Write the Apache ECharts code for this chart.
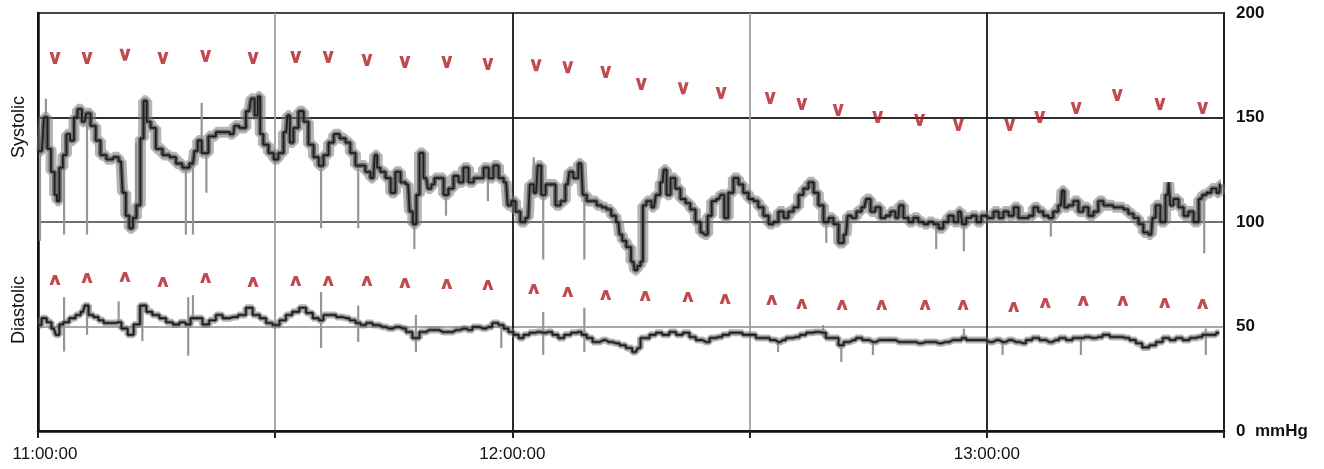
<!DOCTYPE html>
<html>
<head>
<meta charset="utf-8">
<script src="https://cdn.jsdelivr.net/npm/echarts@6/dist/echarts.min.js"></script>
<style>html,body{margin:0;padding:0;background:#fff;}#c{width:1324px;height:469px;}</style>
</head>
<body>
<div id="c"></div>
<script>
// minutes after 11:00:00, pressure in mmHg
var sysTrace = [[0.1,134],[0.5,134],[1.0,150],[1.4,135],[1.9,124],[2.3,113],[2.5,110],[2.9,126],[3.4,132],[3.8,142],[4.3,139],[4.8,150],[5.2,154],[5.9,148],[6.3,152],[7.0,146],[7.6,139],[8.2,132],[9.1,130],[9.9,131],[10.5,129],[10.9,114],[11.3,103],[11.8,97],[12.2,102],[12.7,108],[13.2,140],[13.5,158],[14.0,148],[14.5,145],[15.3,135],[16.2,132],[17.1,131],[17.8,128],[18.7,126],[19.6,128],[20.0,134],[20.4,139],[21.0,133],[22.1,141],[22.9,143],[23.8,143],[24.7,142],
[25.0,146],[25.9,145],[26.7,153],[27.2,159],[27.6,151],[28.0,160],[28.2,142],[28.8,137],[29.5,133],[30.1,130],[30.7,133],[31.4,143],[31.7,151],[32.0,138],[32.6,145],[33.3,153],[33.9,148],[34.5,137],[35.2,131],[35.8,127],[36.4,132],[37.1,138],[37.7,142],[38.6,140],[39.2,138],[39.8,133],[40.5,127],[41.1,127],[41.7,124],[42.4,121],[42.8,132],[43.0,126],[43.6,124],[44.3,121],[44.9,114],[45.5,124],[46.2,119],[46.8,118],[47.2,105],[47.6,99],[48.1,113],[48.4,133],[49.1,121],[49.5,116],[50.0,118],[50.3,121],
[51.0,121],[51.6,113],[52.2,116],[52.9,122],[53.5,119],[54.1,126],[54.8,119],[55.4,121],[56.0,121],[56.7,126],[57.3,121],[57.9,127],[58.6,121],[59.2,119],[59.6,108],[60.1,110],[60.7,105],[61.3,100],[62.0,102],[62.4,118],[63.0,114],[63.4,127],[63.9,113],[64.5,118],[65.1,118],[65.8,108],[66.4,110],[67.0,118],[67.4,124],[68.0,121],[68.7,128],[69.1,113],[69.7,110],[70.3,110],[71.0,108],[71.6,107],[72.2,106],[72.8,103],[73.4,100],[73.7,94],[74.1,91],[74.7,88],[75.3,81],[75.6,77],
[76.0,79],[76.4,81],[76.6,108],[77.3,110],[77.9,107],[78.4,113],[79.0,119],[79.3,125],[79.7,113],[80.3,121],[80.9,116],[81.6,111],[82.2,109],[82.8,106],[83.5,100],[84.1,95],[84.5,94],[84.9,103],[85.5,110],[86.1,111],[86.6,113],[87.0,102],[87.6,114],[88.3,121],[88.9,118],[89.5,114],[90.2,111],[90.8,110],[91.4,107],[92.1,103],[92.7,99],[93.3,100],[94.0,105],[94.6,102],[95.2,105],[95.9,107],[96.5,113],[97.1,116],[97.8,119],[98.4,114],[99.0,108],[99.7,100],[100.3,102],[100.9,99],
[101.6,90],[102.2,94],[102.6,103],[103.2,102],[103.8,105],[104.5,107],[105.0,111],[105.6,105],[106.2,107],[106.9,102],[107.5,103],[108.1,105],[108.8,102],[109.1,108],[109.8,102],[110.4,100],[111.0,102],[111.7,100],[112.3,99],[112.9,100],[113.6,99],[114.2,97],[114.8,100],[115.5,103],[116.1,100],[116.7,105],[117.1,99],[117.7,102],[118.4,103],[119.0,100],[119.6,103],[120.5,102],[121.2,105],[121.8,102],[122.4,105],[123.1,103],[123.7,107],[124.3,102],[125.0,102],[125.6,103],[126.2,107],
[126.8,105],[127.5,103],[128.1,102],[128.7,105],[129.4,108],[129.6,115],[130.0,107],[130.6,108],[131.3,110],[131.9,105],[132.5,107],[133.2,103],[133.8,105],[134.4,110],[135.1,108],[135.7,108],[136.3,107],[137.0,107],[137.6,106],[138.2,104],[138.9,102],[139.5,99],[140.1,95],[140.8,94],[141.1,102],[141.6,108],[142.3,100],[142.9,113],[143.1,119],[143.3,108],[143.9,111],[144.6,107],[145.2,103],[145.8,105],[146.5,100],[147.1,111],[147.5,113],[148.1,114],[148.7,116],[149.4,114],[149.6,118]];

var diaTrace = [[0.1,50.7],[0.8,54],[1.4,52],[2.0,49],[2.5,46],[2.9,51],[3.5,52],[4.4,54],[5.1,55.5],[5.7,57],[6.1,60],[6.7,55.5],[7.3,54.5],[8.0,53],[8.6,51.7],[9.5,51.7],[10.2,52],[10.9,49],[11.8,46],[12.4,51],[13.4,60],[14.0,57],[14.9,55.5],[15.8,54],[16.6,52],[17.5,51],[18.3,52],[19.0,51],[19.6,54],[20.4,54],[21.2,51],[22.1,53],[22.9,55.5],[23.8,54],[24.7,54.5],
[25.9,55.5],[26.7,59],[27.6,55.5],[28.5,54],[29.2,51.7],[30.1,50.7],[31.0,53],[31.7,55.5],[32.6,57],[33.5,59],[34.3,56.5],[35.2,54],[35.8,53],[36.4,55.5],[37.3,55.5],[38.1,54.5],[39.0,54],[39.8,53],[40.5,51.7],[41.1,50.7],[41.9,51.7],[42.7,50.7],[43.6,49.8],[44.4,49],[45.3,49.8],[46.2,49],[46.9,47.4],[47.8,44.5],[48.7,47.4],[49.5,48.3],[50.3,48.3],
[51.2,47.4],[52.0,47.4],[52.9,48.3],[53.8,49],[54.5,48.3],[55.4,49.8],[56.3,49],[57.0,49.8],[57.9,51.7],[58.6,50.7],[59.2,49],[59.8,47.4],[60.5,46],[61.1,44.5],[61.7,46],[62.6,47],[63.2,47.4],[63.9,47],[64.6,47.4],[65.5,46],[66.1,44.5],[67.0,46],[67.8,47],[68.4,47.4],[69.1,46],[69.7,44.5],[70.6,42.6],[71.5,43.5],[72.2,42.6],[73.1,42],[74.0,41],[74.7,39.7],[75.6,37.8],
[76.1,39.7],[76.3,44.5],[76.9,44.5],[77.8,46],[78.5,47],[79.4,46],[80.3,47.4],[81.1,46],[82.0,47],[82.8,45],[83.6,43.5],[84.5,42.6],[85.4,44.5],[86.1,45],[87.0,46],[87.9,47],[88.7,47],[89.5,46],[90.4,46],[91.2,44.5],[92.1,44.5],[93.0,43.5],[93.6,42.6],[94.2,43.5],[95.0,44.5],[95.9,45],[96.8,46],[97.5,47],[98.4,47.4],[99.3,47],[100.0,44.5],[100.9,44.5],
[101.6,41],[102.2,42.6],[103.1,43.5],[103.8,44.5],[104.7,43.5],[105.6,42.6],[106.4,43.5],[107.2,43.5],[108.1,43.5],[108.9,42.6],[109.8,42.6],[110.7,42.6],[111.4,42],[112.3,42.6],[113.2,42.6],[113.9,42],[114.8,42.6],[115.7,43.5],[116.5,43.5],[117.1,44.5],[117.7,43.5],[118.6,43.5],[119.5,43.5],[120.3,42.6],[121.2,43.5],[122.0,42.6],[122.8,43.5],[123.7,42.6],[124.6,42],[125.3,43.5],[126.2,44.5],
[127.1,43.5],[127.9,42.6],[128.7,43.5],[129.6,44.5],[130.4,43.5],[131.3,44.5],[131.9,44.5],[132.5,45],[133.4,44.5],[134.2,45],[135.1,46],[136.0,45],[136.7,45],[137.6,44.5],[138.5,43.5],[139.2,42],[140.1,40],[141.0,41],[141.8,42.6],[142.7,44.5],[143.5,43.5],[144.3,44.5],[145.2,43.5],[146.1,44.5],[146.8,45],[147.7,46],[148.6,46],[149.4,47]];

// thin artefact strokes: [minute, from, to]
var sysSpikes = [[0.25,134,91],[1.0,135,159],[3.3,126,94],[6.2,148,94],[12.4,100,138],[18.7,126,94],[19.6,128,94],[20.7,139,157],[21.3,133,114],[35.8,127,97],[40.5,127,97],[47.6,99,87],[51.6,113,103],[56.9,124,110],[62.7,114,131],[63.9,113,82],[69.1,113,82],[99.7,100,90],[113.6,99,87],[117.1,99,86],[128.1,102,93],[147.5,113,85]];
var diaSpikes = [[3.3,64,38],[6.2,60,46],[10.2,52,62],[13.2,60,43],[19.0,64,36],[19.6,65,54],[35.8,66.5,39.7],[40.5,60,42.6],[47.8,55.5,37.8],[58.6,50.7,39.7],[63.9,57,36.4],[69.1,59,37.8],[93.6,42.6,37.8],[99.3,50.7,45],[101.6,41,33],[105.6,42.6,36.4],[117.1,49,43],[122.0,42.6,36.4],[131.9,44.5,36.4],[147.7,49,36.4]];

// red cuff readings
var sysCuff = [[2.15,178.5],[6.2,178.5],[11.0,180],[15.8,178.5],[21.2,179.4],[27.2,178.5],[32.6,179],[36.7,179],[41.6,177.5],[46.4,176.6],[51.7,176.6],[56.9,175.6],[63.0,175],[67.0,174],[71.8,171.8],[76.3,166],[81.6,164],[86.4,161.7],[92.6,159.3],[96.6,156.5],[101.2,153.6],[106.2,150.2],[111.5,148.8],[116.4,146.4],[122.9,146.4],[126.7,150.2],[131.3,154.5],[136.5,160.8],[141.9,156.5],[147.3,154.5]];
var diaCuff = [[2.15,72.2],[6.2,73.2],[11.0,73.7],[15.8,71.3],[21.2,73.2],[27.2,71.3],[32.6,71.8],[36.7,71.8],[41.6,71.8],[46.4,70.8],[51.7,70.3],[56.9,69.9],[62.7,67.9],[67.0,66.5],[71.8,65.1],[76.8,64.6],[82.2,64.1],[86.9,63.2],[92.8,62.7],[96.6,60.8],[101.7,60.3],[106.7,60.3],[112.2,60.3],[117.0,60.3],[123.4,59.3],[127.4,61.2],[132.2,62.2],[137.2,62.2],[142.5,61.2],[147.3,60.8]];

var xTickMinutes = [0, 60, 120];
var xTickLabels = ['11:00:00', '12:00:00', '13:00:00'];
var yTickValues = [0, 50, 100, 150, 200];
var yTickLabels = ['0  mmHg', '50', '100', '150', '200'];

var chart = echarts.init(document.getElementById('c'), null, {renderer: 'canvas'});
var red = '#b01d24';
var font = 'Liberation Sans, Arial, Helvetica, sans-serif';
function spikeSeries(data) {
  return {
    type: 'custom', data: data, z: 2, silent: true,
    renderItem: function (params, api) {
      var a = api.coord([api.value(0), api.value(1)]);
      var b = api.coord([api.value(0), api.value(2)]);
      return {type: 'line', shape: {x1: a[0], y1: a[1], x2: b[0], y2: b[1]},
        style: {stroke: '#959595', lineWidth: 2.2}};
    }
  };
}
chart.setOption({
  animation: false,
  backgroundColor: '#fff',
  grid: {left: 38, right: 100, top: 13, bottom: 38, show: true, borderColor: '#2a2a2a', borderWidth: 2},
  xAxis: {
    type: 'value', min: 0, max: 150, interval: 30,
    axisLine: {show: true, lineStyle: {color: '#111', width: 2.5}},
    axisTick: {show: true, length: 7, lineStyle: {color: '#222', width: 2}},
    axisLabel: {
      margin: 15, color: '#111', fontSize: 17, fontFamily: font,
      formatter: function (v) {
        var i = xTickMinutes.indexOf(v);
        if (i < 0) return '';
        return i === 0 ? '{first|' + xTickLabels[i] + '}' : xTickLabels[i];
      },
      rich: {first: {padding: [0, 0, 0, 14], fontSize: 17, fontFamily: font, color: '#111'}}
    },
    splitLine: {show: true, lineStyle: {color: ['#222', '#a0a0a0', '#151515', '#a0a0a0', '#151515', '#222'], width: 1.8}}
  },
  yAxis: {
    type: 'value', min: 0, max: 200, interval: 50, position: 'right',
    axisLine: {show: true, lineStyle: {color: '#111', width: 2.5}},
    axisTick: {show: false},
    axisLabel: {
      margin: 12, color: '#111', fontSize: 17, fontWeight: 'bold', fontFamily: font,
      formatter: function (v) { var i = yTickValues.indexOf(v); return i >= 0 ? yTickLabels[i] : ''; }
    },
    splitLine: {show: true, lineStyle: {color: ['#2a2a2a', '#a8a8a8', '#6e6e6e', '#2e2e2e', '#444'], width: 1.8}}
  },
  graphic: [
    {type: 'text', left: 10, top: 96, rotation: Math.PI / 2, style: {text: 'Systolic', fontSize: 18, fill: '#111', fontFamily: font}},
    {type: 'text', left: 10, top: 276, rotation: Math.PI / 2, style: {text: 'Diastolic', fontSize: 18, fill: '#111', fontFamily: font}}
  ],
  series: [
    {type: 'line', data: sysTrace, step: 'middle', showSymbol: false, silent: true, z: 1,
      lineStyle: {color: 'rgba(120,120,120,0.55)', width: 11}},
    {type: 'line', data: diaTrace, step: 'middle', showSymbol: false, silent: true, z: 1,
      lineStyle: {color: 'rgba(120,120,120,0.55)', width: 7}},
    spikeSeries(sysSpikes),
    spikeSeries(diaSpikes),
    {type: 'line', data: sysTrace, step: 'middle', showSymbol: false, silent: true, z: 3,
      lineStyle: {color: 'rgba(70,70,70,0.65)', width: 5}},
    {type: 'line', data: sysTrace, step: 'middle', showSymbol: false, silent: true, z: 3,
      lineStyle: {color: '#1e1e1e', width: 1.8}},
    {type: 'line', data: diaTrace, step: 'middle', showSymbol: false, silent: true, z: 3,
      lineStyle: {color: 'rgba(70,70,70,0.65)', width: 3.5}},
    {type: 'line', data: diaTrace, step: 'middle', showSymbol: false, silent: true, z: 3,
      lineStyle: {color: '#1e1e1e', width: 1.6}},
    {type: 'scatter', data: sysCuff, z: 4, silent: true, symbolSize: [11, 12],
      symbol: 'path://M0,0 L3.8,0 L6,7.2 L8.2,0 L12,0 L8,12 L4,12 Z', itemStyle: {color: red}},
    {type: 'scatter', data: diaCuff, z: 4, silent: true, symbolSize: [11, 10],
      symbol: 'path://M4,0 L8,0 L12,12 L8.2,12 L6,4.8 L3.8,12 L0,12 Z', itemStyle: {color: red}}
  ]
});
</script>
</body>
</html>
